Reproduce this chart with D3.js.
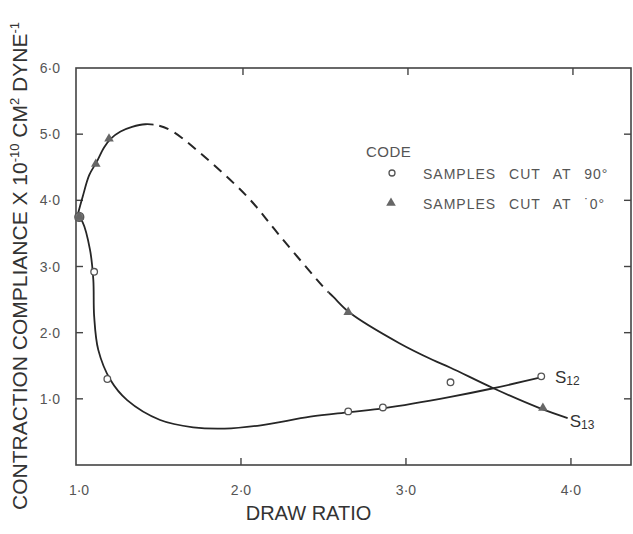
<!DOCTYPE html>
<html>
<head>
<meta charset="utf-8">
<script src="https://cdn.jsdelivr.net/npm/d3@7"></script>
<style>
  body { margin: 0; background: #fff; }
  text { font-family: "Liberation Sans", Arial, sans-serif; }
</style>
</head>
<body>
<script>
// Measured points (draw ratio, compliance x 10^-10)
const circleX = [1.02, 1.11, 1.19, 2.65, 2.86, 3.27, 3.82];
const circleY = [3.75, 2.92, 1.30, 0.81, 0.87, 1.25, 1.34];
const triangleX = [1.02, 1.12, 1.20, 2.65, 3.83];
const triangleY = [3.75, 4.55, 4.93, 2.31, 0.86];

// Hand-drawn curves
const s12X = [1.00, 1.04, 1.085, 1.105, 1.11, 1.135, 1.21, 1.31, 1.51, 1.71, 1.90, 2.12, 2.42, 2.66, 2.87, 3.27, 3.53, 3.83];
const s12Y = [3.80, 3.67, 3.25, 2.80, 2.25, 1.74, 1.28, 0.98, 0.68, 0.57, 0.55, 0.60, 0.73, 0.80, 0.86, 1.03, 1.16, 1.33];
const s13X = [1.01, 1.04, 1.08, 1.125, 1.17, 1.21, 1.27, 1.34, 1.42, 1.50, 1.58, 1.75, 2.04, 2.24, 2.50, 2.56, 2.66, 2.96, 3.16, 3.27, 3.53, 3.81, 3.98];
const s13Y = [3.78, 4.05, 4.38, 4.58, 4.80, 4.93, 5.04, 5.11, 5.15, 5.13, 5.05, 4.72, 4.05, 3.45, 2.69, 2.54, 2.30, 1.84, 1.59, 1.47, 1.16, 0.86, 0.71];
const s13Dashed = [1.47, 2.53]; // extrapolated part of the curve

const xTicks = [1, 2, 3, 4];
const xTickLabels = ["1·0", "2·0", "3·0", "4·0"];
const yTicks = [1, 2, 3, 4, 5, 6];
const yTickLabels = ["1·0", "2·0", "3·0", "4·0", "5·0", "6·0"];

const width = 633;
const height = 534;
const marginTop = 68;
const marginRight = 2;
const marginBottom = 69;
const marginLeft = 76;

const x = d3.scaleLinear()
    .domain([1, 4.364])
    .range([marginLeft, width - marginRight]);

const y = d3.scaleLinear()
    .domain([0, 6])
    .range([height - marginBottom, marginTop]);

const ink = "#262626";

const svg = d3.select("body").append("svg")
    .attr("width", width)
    .attr("height", height)
    .attr("viewBox", [0, 0, width, height]);

// frame
svg.append("rect")
    .attr("x", x(1)).attr("y", y(6))
    .attr("width", x(4.364) - x(1)).attr("height", y(0) - y(6))
    .attr("fill", "none").attr("stroke", "#444").attr("stroke-width", 1.6);

// ticks, drawn inside the frame
const tickLen = 7;
svg.append("g").attr("stroke", "#444").attr("stroke-width", 1.4)
    .selectAll("line.yl").data(yTicks.slice(0, -1)).join("line")
    .attr("x1", x(1)).attr("x2", x(1) + tickLen)
    .attr("y1", d => y(d)).attr("y2", d => y(d));
svg.append("g").attr("stroke", "#444").attr("stroke-width", 1.4)
    .selectAll("line.yr").data(yTicks.slice(0, -1)).join("line")
    .attr("x1", x(4.364)).attr("x2", x(4.364) - tickLen)
    .attr("y1", d => y(d)).attr("y2", d => y(d));
svg.append("g").attr("stroke", "#444").attr("stroke-width", 1.4)
    .selectAll("line.xb").data(xTicks.slice(1)).join("line")
    .attr("x1", d => x(d)).attr("x2", d => x(d))
    .attr("y1", y(0)).attr("y2", y(0) - tickLen);
svg.append("g").attr("stroke", "#444").attr("stroke-width", 1.4)
    .selectAll("line.xt").data(xTicks.slice(1)).join("line")
    .attr("x1", d => x(d) + 2).attr("x2", d => x(d) + 2)
    .attr("y1", y(6)).attr("y2", y(6) + tickLen);

// tick labels
svg.append("g")
    .selectAll("text").data(xTicks).join("text")
    .attr("x", (d, i) => x(d) + (i === 0 ? 3 : 0))
    .attr("y", y(0) + 30)
    .attr("text-anchor", "middle")
    .attr("font-size", 14).attr("fill", "#555")
    .text((d, i) => xTickLabels[i]);

svg.append("g")
    .selectAll("text").data(yTicks).join("text")
    .attr("x", marginLeft - 16)
    .attr("y", d => y(d) + 5)
    .attr("text-anchor", "end")
    .attr("font-size", 14).attr("fill", "#555")
    .text((d, i) => yTickLabels[i]);

// axis titles
svg.append("text")
    .attr("x", (x(1) + x(4.364)) / 2 - 45)
    .attr("y", y(0) + 55)
    .attr("text-anchor", "middle")
    .attr("font-size", 20).attr("fill", "#333")
    .text("DRAW RATIO");

const yTitle = svg.append("text")
    .attr("transform", "translate(27,22) rotate(-90)")
    .attr("text-anchor", "end")
    .attr("font-size", 21).attr("fill", "#333");
yTitle.append("tspan").text("CONTRACTION  COMPLIANCE X 10");
yTitle.append("tspan").attr("dy", -8).attr("font-size", 13).text("-10");
yTitle.append("tspan").attr("dy", 8).text(" CM");
yTitle.append("tspan").attr("dy", -8).attr("font-size", 13).text("2");
yTitle.append("tspan").attr("dy", 8).text(" DYNE");
yTitle.append("tspan").attr("dy", -8).attr("font-size", 13).text("-1");

// curves
const line = d3.line()
    .x(d => x(d[0]))
    .y(d => y(d[1]))
    .curve(d3.curveCatmullRom.alpha(0.5));

const s12 = s12X.map((v, i) => [v, s12Y[i]]);
const s13 = s13X.map((v, i) => [v, s13Y[i]]);

const defs = svg.append("defs");
defs.append("clipPath").attr("id", "solidA")
  .append("rect").attr("x", 0).attr("y", 0)
    .attr("width", x(s13Dashed[0])).attr("height", height);
defs.append("clipPath").attr("id", "solidB")
  .append("rect").attr("x", x(s13Dashed[1])).attr("y", 0)
    .attr("width", width).attr("height", height);
defs.append("clipPath").attr("id", "dashed")
  .append("rect").attr("x", x(s13Dashed[0])).attr("y", 0)
    .attr("width", x(s13Dashed[1]) - x(s13Dashed[0])).attr("height", height);

svg.append("path")
    .attr("d", line(s12))
    .attr("fill", "none").attr("stroke", ink).attr("stroke-width", 1.8);

["solidA", "solidB"].forEach(id => {
    svg.append("path")
        .attr("d", line(s13))
        .attr("clip-path", `url(#${id})`)
        .attr("fill", "none").attr("stroke", ink).attr("stroke-width", 1.8);
});
svg.append("path")
    .attr("d", line(s13))
    .attr("clip-path", "url(#dashed)")
    .attr("fill", "none").attr("stroke", ink).attr("stroke-width", 2)
    .attr("stroke-dasharray", "10,7");

// markers
const tri = d3.symbol().type(d3.symbolTriangle).size(40);

svg.append("g")
    .selectAll("circle").data(circleX).join("circle")
    .attr("cx", d => x(d))
    .attr("cy", (d, i) => y(circleY[i]))
    .attr("r", (d, i) => i === 0 ? 4.5 : 3.3)
    .attr("fill", (d, i) => i === 0 ? "#777" : "#fff")
    .attr("stroke", "#555").attr("stroke-width", 1.3);

svg.append("g")
    .selectAll("path").data(triangleX).join("path")
    .attr("d", tri)
    .attr("transform", (d, i) => `translate(${x(d)},${y(triangleY[i])})`)
    .attr("fill", "#666");

// curve labels
function seriesLabel(name, sub, px, py) {
    const t = svg.append("text")
        .attr("x", px).attr("y", py)
        .attr("font-size", 17).attr("fill", "#333");
    t.append("tspan").text(name);
    t.append("tspan").attr("dy", 2).attr("font-size", 12).text(sub);
}
seriesLabel("S", "12", x(3.83) + 12, y(1.33) + 6);
seriesLabel("S", "13", x(3.98) + 2, y(0.71) + 9);

// legend
const legend = svg.append("g").attr("fill", "#555");
legend.append("text").attr("x", 366).attr("y", 157)
    .attr("font-size", 15).attr("letter-spacing", 0.5).text("CODE");
legend.append("circle").attr("cx", 392).attr("cy", 173).attr("r", 3)
    .attr("fill", "#fff").attr("stroke", "#555").attr("stroke-width", 1.3);
legend.append("text").attr("x", 423).attr("y", 179)
    .attr("font-size", 14).attr("word-spacing", 8).attr("letter-spacing", 1)
    .text("SAMPLES CUT AT 90°");
legend.append("path").attr("d", tri)
    .attr("transform", "translate(391,203)").attr("fill", "#666");
legend.append("text").attr("x", 423).attr("y", 209)
    .attr("font-size", 14).attr("word-spacing", 8).attr("letter-spacing", 1)
    .text("SAMPLES CUT AT ˙0°");
</script>
</body>
</html>
